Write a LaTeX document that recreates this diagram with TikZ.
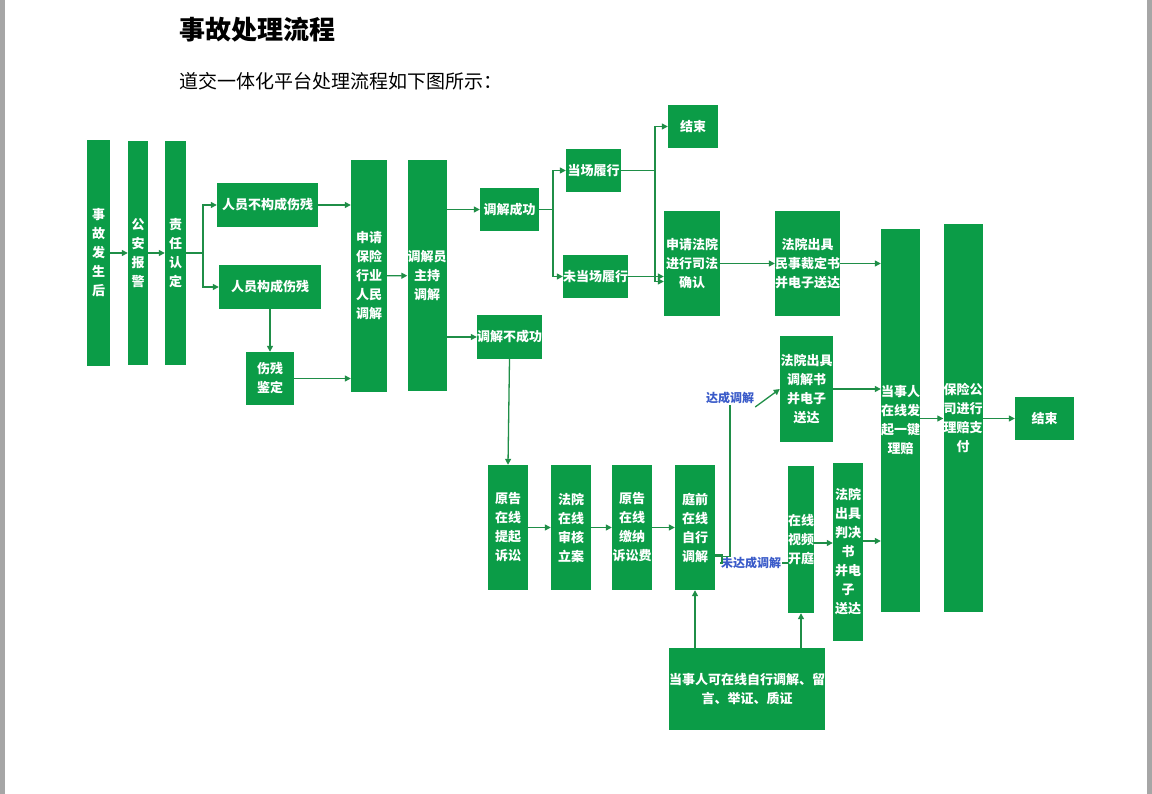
\documentclass[tikz,border=0pt]{standalone}
\usepackage{fontspec}
\setmainfont{Noto Sans CJK SC}
\usetikzlibrary{arrows.meta}
\definecolor{bx}{HTML}{0B9C47}
\definecolor{ln}{HTML}{1F8E47}
\definecolor{lb}{HTML}{3A5BC9}
\tikzset{
 bx/.style={fill=bx,text=white,font=\bfseries\fontsize{13}{19}\selectfont,align=center,inner sep=0pt,anchor=center},
 ar/.style={draw=ln,line width=1.3pt,-{Triangle[length=6pt,width=6pt]}},
 ln/.style={draw=ln,line width=1.3pt},
 lbl/.style={text=lb,font=\bfseries\fontsize{12}{14}\selectfont,inner sep=1pt}
}
\newcommand{\bxn}[6]{\node[bx,minimum width=#4pt,minimum height=#5pt] (#1) at (#2,#3) {#6};}
\begin{document}
\begin{tikzpicture}[x=1pt,y=-1pt]
\useasboundingbox (0,0) rectangle (1152,794);
\fill[white] (0,0) rectangle (1152,794);
\fill[gray!70] (0,0) rectangle (5,794);
\fill[gray!70] (1147,0) rectangle (1152,794);
\node[anchor=west,font=\bfseries\fontsize{26}{30}\selectfont] (title) at (176,30) {事故处理流程};
\node[anchor=west,font=\fontsize{19}{22}\selectfont] (sub) at (176,81) {道交一体化平台处理流程如下图所示：};
\bxn{n1}{98.5}{253}{23}{226}{事\\故\\发\\生\\后}
\bxn{n2}{138}{253}{20}{224}{公\\安\\报\\警}
\bxn{n3}{175.5}{253}{21}{224}{责\\任\\认\\定}
\bxn{n4}{267.5}{205}{101}{44}{人员不构成伤残}
\bxn{n5}{270}{287}{102}{44}{人员构成伤残}
\bxn{n6}{270}{378.5}{48}{53}{伤残\\鉴定}
\bxn{n7}{369}{276}{36}{232}{申请\\保险\\行业\\人民\\调解}
\bxn{n8}{427}{275.5}{36}{231}{调解员\\主持\\调解}
\bxn{n9}{509.5}{209.5}{59}{43}{调解成功}
\bxn{n10}{509.5}{337}{59}{44}{调解不成功}
\bxn{n11}{593.5}{170.5}{55}{43}{当场履行}
\bxn{n12}{595.5}{276.5}{55}{43}{未当场履行}
\bxn{n13}{693}{126.5}{50}{43}{结束}
\bxn{n14}{692}{263.5}{56}{105}{申请法院\\进行司法\\确认}
\bxn{n15}{807.5}{263.5}{57}{105}{法院出具\\民事裁定书\\并电子送达}
\bxn{n16}{806.5}{389}{53}{106}{法院出具\\调解书\\并电子\\送达}
\bxn{n17}{900.5}{420.5}{35}{383}{当事人\\在线发\\起一键\\理赔}
\bxn{n18}{963}{418}{36}{388}{保险公\\司进行\\理赔支\\付}
\bxn{n19}{1044.5}{418.5}{59}{43}{结束}
\bxn{n20}{508}{527.5}{40}{125}{原告\\在线\\提起\\诉讼}
\bxn{n21}{571}{527.5}{40}{125}{法院\\在线\\审核\\立案}
\bxn{n22}{632}{527.5}{40}{125}{原告\\在线\\缴纳\\诉讼费}
\bxn{n23}{695}{527.5}{40}{125}{庭前\\在线\\自行\\调解}
\bxn{n24}{801}{539.5}{26}{147}{在线\\视频\\开庭}
\bxn{n25}{848}{552}{30}{178}{法院\\出具\\判决\\书\\并电\\子\\送达}
\bxn{n26}{747}{689}{140}{82}{当事人可在线自行调解、留\\言、举证、质证}
\node[lbl] (l1) at (730,398) {达成调解};
\node[lbl] (l2) at (751,563) {未达成调解};
% connectors
\draw[ar] (n1) -- (n2);
\draw[ar] (n2) -- (n3);
\coordinate (b1) at (203,253);
\draw[ln] (n3.east |- b1) -- (b1);
\draw[ar] (b1) |- (n4.west);
\draw[ar] (b1) |- (n5.west);
\draw[ar] (n5.south) -- (n6.north);
\draw[ar] (n4.east) -- (n7.west |- n4.east);
\draw[ar] (n6.east) -- (n7.west |- n6.east);
\draw[ar] (n7) -- (n8);
\draw[ar] (n8.east |- n9) -- (n9.west);
\draw[ar] (n8.east |- n10) -- (n10.west);
\coordinate (b2) at (553,209.5);
\draw[ln] (n9.east) -- (b2);
\draw[ar] (b2) |- (n11.west);
\draw[ar] (b2) |- (n12.west);
\coordinate (b3) at (655,170.5);
\draw[ln] (n11.east) -- (b3);
\draw[ar] (b3) |- (n13.west);
\draw[ar] (b3) |- ([yshift=-18pt]n14.west);
\draw[ar] (n12.east) -- (n14.west |- n12.east);
\draw[ar] (n14) -- (n15);
\draw[ar] (n15.east) -- (n17.west |- n15.east);
\draw[ar] (n16.east) -- (n17.west |- n16.east);
\draw[ar] (n17.east |- n19) -- (n18.west |- n19);
\draw[ar] (n18.east |- n19) -- (n19.west);
\draw[ar] (n10.south) -- (n20.north);
\draw[ar] (n20) -- (n21);
\draw[ar] (n21) -- (n22);
\draw[ar] (n22) -- (n23);
\draw[ln] ([yshift=-29pt]n23.east) -| (l1.south);
\draw[ar] ([yshift=-9pt]l1.east) -- (n16.west |- n16);
\coordinate (c2) at (722,555);
\draw[ln] (n23.east |- c2) -- (c2) |- (l2.west);
\draw[ln] (l2.east) -- (n24.west |- l2.east);
\draw[ar] (n24.east |- 0,543) -- (n25.west |- 0,543);
\draw[ar] (n25.east |- 0,541) -- (n17.west |- 0,541);
\draw[ar] (n26.north -| n23) -- (n23.south);
\draw[ar] (n26.north -| n24) -- (n24.south);
\end{tikzpicture}
\end{document}
